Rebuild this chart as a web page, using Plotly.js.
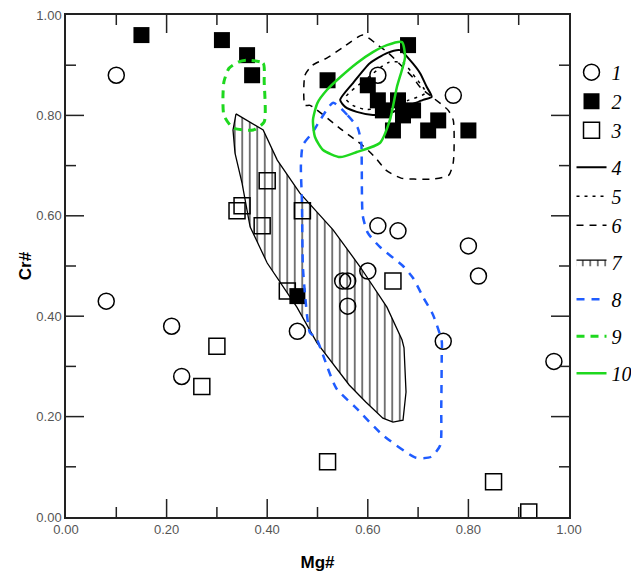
<!DOCTYPE html>
<html>
<head>
<meta charset="utf-8">
<script src="https://cdn.plot.ly/plotly-3.0.1.min.js"></script>
<style>html,body{margin:0;padding:0;background:#fff;}#chart{width:631px;height:572px;}</style>
</head>
<body>
<div id="chart"></div>
<script>
// ---- Series 1: open circles ----
const circleMg = [0.10, 0.08, 0.21, 0.23, 0.46, 0.60, 0.55, 0.56, 0.56, 0.82, 0.75, 0.97, 0.62, 0.66, 0.80, 0.77, 0.62];
const circleCr = [0.88, 0.43, 0.38, 0.28, 0.37, 0.49, 0.47, 0.47, 0.42, 0.48, 0.35, 0.31, 0.58, 0.57, 0.54, 0.84, 0.88];
// ---- Series 2: filled squares ----
const filledMg = [0.15, 0.31, 0.36, 0.37, 0.46, 0.68, 0.52, 0.60, 0.62, 0.63, 0.66, 0.69, 0.67, 0.65, 0.72, 0.74, 0.80];
const filledCr = [0.96, 0.95, 0.92, 0.88, 0.44, 0.94, 0.87, 0.86, 0.83, 0.81, 0.83, 0.81, 0.80, 0.77, 0.77, 0.79, 0.77];
// ---- Series 3: open squares ----
const openSqMg = [0.40, 0.35, 0.34, 0.39, 0.47, 0.44, 0.30, 0.27, 0.65, 0.52, 0.85, 0.92];
const openSqCr = [0.67, 0.62, 0.61, 0.58, 0.61, 0.45, 0.34, 0.26, 0.47, 0.11, 0.07, 0.01];
// ---- Field 4: black solid outline ----
const field4Mg = [0.545, 0.571, 0.604, 0.638, 0.664, 0.684, 0.704, 0.717, 0.727, 0.710, 0.644, 0.610, 0.578, 0.555, 0.545];
const field4Cr = [0.831, 0.865, 0.904, 0.924, 0.930, 0.910, 0.884, 0.857, 0.837, 0.831, 0.805, 0.801, 0.807, 0.817, 0.831];
// ---- Field 5: black short-dashed outline ----
const field5Mg = [0.555, 0.600, 0.640, 0.670, 0.695, 0.715, 0.680, 0.630, 0.595, 0.570, 0.555];
const field5Cr = [0.835, 0.875, 0.905, 0.905, 0.875, 0.845, 0.830, 0.815, 0.812, 0.820, 0.835];
// ---- Field 6: black long-dashed outline ----
const field6Mg = [0.475, 0.475, 0.490, 0.520, 0.550, 0.590, 0.620, 0.640, 0.690, 0.705, 0.730, 0.760, 0.770, 0.770, 0.761, 0.730, 0.696, 0.666, 0.636, 0.616, 0.590, 0.550, 0.485, 0.475];
const field6Cr = [0.820, 0.880, 0.900, 0.915, 0.935, 0.960, 0.940, 0.925, 0.875, 0.855, 0.835, 0.810, 0.790, 0.707, 0.681, 0.673, 0.673, 0.675, 0.691, 0.715, 0.740, 0.770, 0.820, 0.820];
// ---- Field 7: hatched field ----
const field7Mg = [0.338, 0.366, 0.392, 0.420, 0.465, 0.531, 0.585, 0.638, 0.668, 0.672, 0.676, 0.670, 0.650, 0.630, 0.596, 0.563, 0.499, 0.459, 0.400, 0.366, 0.350, 0.336, 0.332, 0.338];
const field7Cr = [0.803, 0.787, 0.771, 0.711, 0.645, 0.572, 0.498, 0.418, 0.353, 0.337, 0.249, 0.193, 0.189, 0.197, 0.229, 0.263, 0.347, 0.418, 0.506, 0.578, 0.665, 0.725, 0.771, 0.803];
// ---- Field 8: blue dashed outline ----
const field8Mg = [0.531, 0.560, 0.580, 0.587, 0.588, 0.590, 0.600, 0.624, 0.670, 0.690, 0.710, 0.730, 0.747, 0.747, 0.746, 0.744, 0.726, 0.696, 0.630, 0.577, 0.537, 0.497, 0.485, 0.475, 0.471, 0.469, 0.467, 0.471, 0.491, 0.503, 0.531];
const field8Cr = [0.825, 0.800, 0.775, 0.745, 0.697, 0.600, 0.566, 0.538, 0.500, 0.476, 0.438, 0.402, 0.350, 0.323, 0.217, 0.143, 0.120, 0.118, 0.163, 0.217, 0.257, 0.357, 0.367, 0.446, 0.498, 0.630, 0.700, 0.741, 0.767, 0.787, 0.825];
// ---- Field 9: green dashed outline ----
const field9Mg = [0.358, 0.392, 0.394, 0.394, 0.372, 0.332, 0.314, 0.312, 0.314, 0.324, 0.342, 0.358];
const field9Cr = [0.910, 0.904, 0.867, 0.787, 0.771, 0.775, 0.800, 0.835, 0.867, 0.894, 0.906, 0.910];
// ---- Field 10: green solid outline ----
const field10Mg = [0.668, 0.674, 0.658, 0.644, 0.624, 0.578, 0.545, 0.511, 0.495, 0.491, 0.500, 0.519, 0.545, 0.578, 0.610, 0.638, 0.668];
const field10Cr = [0.946, 0.916, 0.857, 0.791, 0.745, 0.727, 0.717, 0.731, 0.757, 0.791, 0.825, 0.851, 0.876, 0.904, 0.926, 0.940, 0.946];

const legendLabels = ['1', '2', '3', '4', '5', '6', '7', '8', '9', '10'];
const legendGroups = ['a', 'a', 'a', 'b', 'b', 'b', 'c', 'd', 'e', 'f'];
// axis tick positions (same on both axes)
const majorTicks = [0.2, 0.4, 0.6, 0.8];
const minorTicks = [0.1, 0.3, 0.5, 0.7, 0.9];

const BLUE = '#1f5cff';
const GREEN = '#1ed81e';
const AXC = '#222';

function outline(mg, cr, idx, line, extra) {
  return Object.assign({
    type: 'scatter', mode: 'lines', x: mg, y: cr, name: legendLabels[idx], legendgroup: legendGroups[idx],
    line: Object.assign({shape: 'spline', smoothing: 0.6}, line),
    hoverinfo: 'skip'
  }, extra || {});
}

const traces = [
  {type: 'scatter', mode: 'markers', x: circleMg, y: circleCr, name: legendLabels[0], legendgroup: legendGroups[0],
   marker: {symbol: 'circle-open', size: 16, color: 'black', line: {width: 1.5, color: 'black'}}},
  {type: 'scatter', mode: 'markers', x: filledMg, y: filledCr, name: legendLabels[1], legendgroup: legendGroups[1],
   marker: {symbol: 'square', size: 16, color: 'black', line: {width: 0}}},
  {type: 'scatter', mode: 'markers', x: openSqMg, y: openSqCr, name: legendLabels[2], legendgroup: legendGroups[2],
   marker: {symbol: 'square-open', size: 16, color: 'black', line: {width: 1.5, color: 'black'}}},
  outline(field4Mg, field4Cr, 3, {color: 'black', width: 2}),
  outline(field5Mg, field5Cr, 4, {color: 'black', width: 1.5, dash: '3px,5px'}),
  outline(field6Mg, field6Cr, 5, {color: 'black', width: 1.5, dash: '7px,6px'}),
  outline(field7Mg, field7Cr, 6, {color: 'black', width: 1.3, shape: 'linear'},
    {fill: 'toself', fillcolor: 'rgba(0,0,0,0)',
     fillpattern: {shape: '|', size: 7.5, solidity: 0.14, fgcolor: 'black', bgcolor: 'rgba(255,255,255,0)'}}),
  outline(field8Mg, field8Cr, 7, {color: BLUE, width: 2.5, dash: '8px,7px'}),
  outline(field9Mg, field9Cr, 8, {color: GREEN, width: 3, dash: '8px,6px'}),
  outline(field10Mg, field10Cr, 9, {color: GREEN, width: 2.5})
];

// inward tick marks on all four sides, built from the tick position arrays
const PLOT_W = 631 - 66 - 62, PLOT_H = 572 - 15 - 55;
function tickShapes(vals, lenPx) {
  const out = [];
  const lx = lenPx / PLOT_H, ly = lenPx / PLOT_W;
  const ln = {color: AXC, width: 1.5};
  vals.forEach(function (v) {
    out.push({type: 'line', layer: 'above', xref: 'x', yref: 'y domain', x0: v, x1: v, y0: 0, y1: lx, line: ln});
    out.push({type: 'line', layer: 'above', xref: 'x', yref: 'y domain', x0: v, x1: v, y0: 1, y1: 1 - lx, line: ln});
    out.push({type: 'line', layer: 'above', xref: 'x domain', yref: 'y', x0: 0, x1: ly, y0: v, y1: v, line: ln});
    out.push({type: 'line', layer: 'above', xref: 'x domain', yref: 'y', x0: 1, x1: 1 - ly, y0: v, y1: v, line: ln});
  });
  return out;
}

const axisCommon = {
  range: [0, 1], tickmode: 'linear', tick0: 0, dtick: 0.2, tickformat: '.2f',
  ticks: '', showline: true, linewidth: 1.5, linecolor: AXC, mirror: true,
  showgrid: false, zeroline: false, layer: 'above traces',
  tickfont: {family: 'Liberation Sans, Arial, sans-serif', size: 13, color: '#555'}
};

const layout = {
  width: 631, height: 572,
  margin: {l: 66, r: 62, t: 15, b: 55, autoexpand: false},
  xaxis: Object.assign({}, axisCommon, {
    title: {text: 'Mg#', font: {family: 'Liberation Sans, Arial, sans-serif', size: 17, color: 'black', weight: 'bold'}}
  }),
  yaxis: Object.assign({}, axisCommon, {
    title: {text: 'Cr#', font: {family: 'Liberation Sans, Arial, sans-serif', size: 17, color: 'black', weight: 'bold'}, standoff: 0}
  }),
  shapes: tickShapes(majorTicks, 18).concat(tickShapes(minorTicks, 10)),
  showlegend: true,
  legend: {
    x: 1.005, y: 0.925, xanchor: 'left', yanchor: 'top', traceorder: 'grouped',
    font: {family: 'Liberation Serif, Times New Roman, serif', size: 20, style: 'italic', color: 'black'},
    bgcolor: 'rgba(0,0,0,0)', borderwidth: 0, itemwidth: 30, tracegroupgap: 8
  }
};

Plotly.newPlot('chart', traces, layout, {displayModeBar: false});
</script>
</body>
</html>
